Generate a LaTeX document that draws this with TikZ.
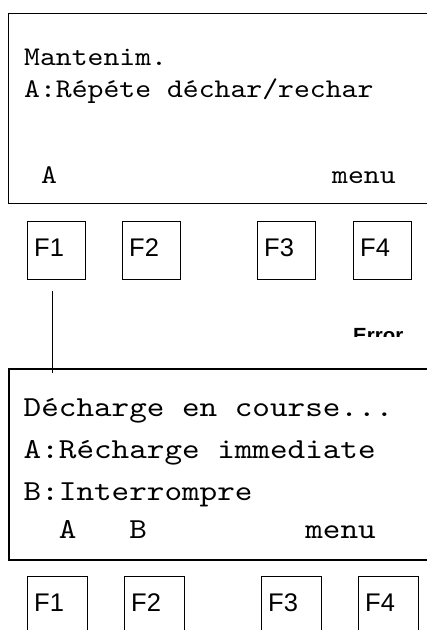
\documentclass[tikz,border=0pt]{standalone}
\usepackage{fontspec}
\setmainfont{Liberation Sans}
\newfontfamily\lcdfontA{lmmono10-regular.otf}[FakeStretch=1.12]
\newfontfamily\lcdfontB{lmmono10-regular.otf}[FakeStretch=1.156]
\begin{document}
\begin{tikzpicture}[x=1pt,y=-1pt,
  screen/.style={draw,line width=1.3pt,inner sep=0pt,anchor=north west},
  lcdA/.style={anchor=base west,inner sep=0pt,font=\lcdfontA\fontsize{27}{30}\selectfont},
  lcdB/.style={anchor=base west,inner sep=0pt,font=\lcdfontB\fontsize{29}{33}\selectfont},
  keybox/.style={draw,line width=1.3pt,inner sep=0pt,minimum width=58pt,minimum height=58pt,anchor=north west},
  keytext/.style={anchor=base west,inner sep=0pt,font=\fontsize{25.5}{28}\selectfont}]
\useasboundingbox (0,0) rectangle (427,630);
\clip (0,0) rectangle (427,630);
% top screen
\node[screen,minimum width=440pt,minimum height=189.5pt] (s1) at (7.5,13) {};
\node[lcdA] (t1) at (24,65) {Mantenim.};
\node[lcdA] (t2) at (24,97) {A:Répéte déchar/rechar};
\node[lcdA] (t3) at (41,183) {A};
\node[lcdA] (t4) at (332,183) {menu};
% top keys
\node[keybox] (k1) at (27,221) {};
\node[keybox] (k2) at (122,221) {};
\node[keybox] (k3) at (257,221) {};
\node[keybox] (k4) at (353,221) {};
\foreach \k/\t in {k1/F1,k2/F2,k3/F3,k4/F4}
  \node[keytext] (\k t) at ([xshift=7pt,yshift=-35pt]\k.north west) {\t};
% clipped Error label
\begin{scope}
  \clip (340,320) rectangle (420,336.7);
  \node[anchor=base west,inner sep=0pt,font=\bfseries\fontsize{20.5}{23}\selectfont] (err) at (353,342.5) {Error};
\end{scope}
% bottom screen
\node[screen,line width=2pt,minimum width=440pt,minimum height=191pt] (s2) at (7.5,367.5) {};
\node[lcdB] (b1) at (23.5,416.7) {Décharge en course...};
\node[lcdB] (b2) at (23.5,458.3) {A:Récharge immediate};
\node[lcdB] (b3) at (23.5,500) {B:Interrompre};
\node[lcdB] (b4) at (58.7,538.3) {A};
\node[lcdB] (b5) at (129.1,538.3) {B};
\node[lcdB] (b6) at (305.1,538.3) {menu};
% bottom keys
\node[keybox,minimum width=60pt,minimum height=80pt] (m1) at (27,576) {};
\node[keybox,minimum width=60pt,minimum height=80pt] (m2) at (124,576) {};
\node[keybox,minimum width=60pt,minimum height=80pt] (m3) at (261,576) {};
\node[keybox,minimum width=60pt,minimum height=80pt] (m4) at (358,576) {};
\foreach \k/\t in {m1/F1,m2/F2,m3/F3,m4/F4}
  \node[keytext] (\k t) at ([xshift=7pt,yshift=-35pt]\k.north west) {\t};
% connector
\coordinate (c1) at ([xshift=-4.3pt,yshift=-11pt]k1.south);
\coordinate (c2) at (c1 |- s2.north);
\draw[line width=1.3pt] (c1) -- ([yshift=-5pt]c2);
\end{tikzpicture}
\end{document}
